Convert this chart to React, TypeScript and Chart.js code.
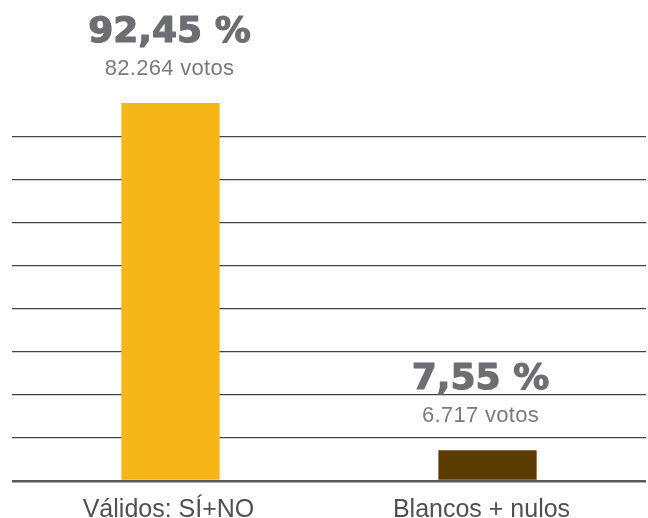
import React, { useEffect, useRef } from 'react';
import { Chart, registerables } from 'chart.js';

Chart.register(...registerables);

const CATEGORIES = ['Válidos: SÍ+NO', 'Blancos + nulos'];
const PERCENTS = [92.45, 7.55];
const PERCENT_LABELS = ['92,45 %', '7,55 %'];
const VOTE_LABELS = ['82.264 votos', '6.717 votos'];
const BAR_COLORS = ['#F7B618', '#5C3B00'];

const Y_MAX = 94.65;
const LABEL_DX = [-1, -7];

const labelsPlugin = {
  id: 'barLabels',
  afterDraw(chart: any) {
    const ctx = chart.ctx;
    const meta = chart.getDatasetMeta(0);
    const bottom = chart.chartArea.bottom;
    meta.data.forEach((bar: any, i: number) => {
      const x = bar.x + LABEL_DX[i];
      const top = bar.y;
      ctx.save();
      ctx.textAlign = 'center';
      ctx.textBaseline = 'alphabetic';
      ctx.fillStyle = '#6D6E71';
      ctx.strokeStyle = '#6D6E71';
      ctx.lineWidth = 1.2;
      ctx.lineJoin = 'round';
      ctx.font = 'bold 36px "DejaVu Sans"';
      ctx.fillText(PERCENT_LABELS[i], x, top - 61);
      ctx.strokeText(PERCENT_LABELS[i], x, top - 61);
      ctx.fillStyle = '#7A7B7E';
      ctx.font = '22px "Liberation Sans"';
      (ctx as any).letterSpacing = '0.3px';
      ctx.fillText(VOTE_LABELS[i], x, top - 28);
      (ctx as any).letterSpacing = '0px';
      ctx.fillStyle = '#4F5052';
      ctx.font = '25px "Liberation Sans"';
      ctx.fillText(CATEGORIES[i], bar.x + (i === 0 ? -2 : -6), bottom + 36);
      ctx.restore();
    });
  },
};

export default function App() {
  const canvasRef = useRef<HTMLCanvasElement | null>(null);

  useEffect(() => {
    if (!canvasRef.current) return;
    const chart = new Chart(canvasRef.current, {
      type: 'bar',
      data: {
        labels: CATEGORIES,
        datasets: [
          {
            data: PERCENTS,
            backgroundColor: BAR_COLORS,
            borderWidth: 0,
            categoryPercentage: 1,
            barPercentage: 0.31,
          },
        ],
      },
      options: {
        animation: false,
        responsive: true,
        maintainAspectRatio: false,
        layout: { padding: { top: 94, bottom: 37, left: 12, right: 2 } },
        plugins: {
          legend: { display: false },
          tooltip: { enabled: false },
        },
        scales: {
          x: { display: false },
          y: {
            min: 0,
            max: Y_MAX,
            ticks: { display: false, count: 10 },
            border: { display: false },
            grid: {
              drawTicks: false,
              color: (c: any) => (c.index === 0 ? '#5A5A5A' : c.index === 9 ? 'rgba(0,0,0,0)' : '#444444'),
              lineWidth: (c: any) => (c.index === 0 ? 2.5 : 1.2),
            },
          },
        },
      },
      plugins: [labelsPlugin],
    });
    return () => chart.destroy();
  }, []);

  return (
    <div style={{ position: 'fixed', left: 0, top: 0, width: 648, height: 518, background: '#fff' }}>
      <canvas ref={canvasRef} />
    </div>
  );
}
